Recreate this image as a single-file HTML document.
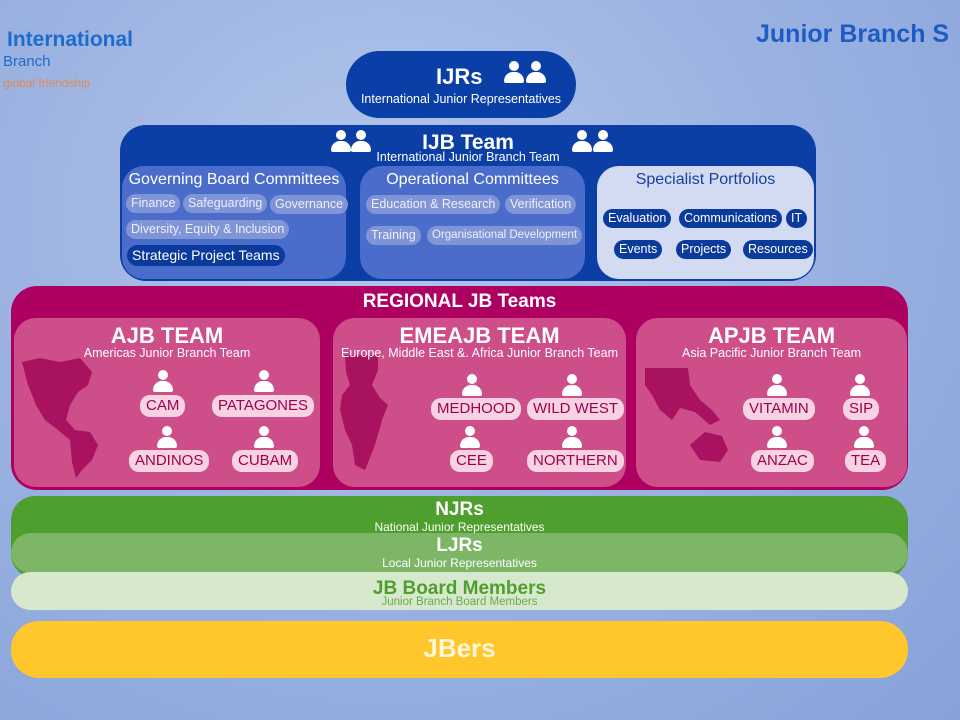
<!DOCTYPE html>
<html><head><meta charset="utf-8"><style>
*{margin:0;padding:0;box-sizing:border-box}
body{width:960px;height:720px;overflow:hidden;position:relative;font-family:"Liberation Sans Narrow","Liberation Sans",sans-serif;
background:radial-gradient(ellipse at 40% 30%,#b3c6ea 0%,#9db4e2 45%,#87a2da 100%);}
.a{position:absolute}
.c{text-align:center;color:#fff}
.pill{position:absolute;border-radius:11px;padding:0 5px;height:19px;line-height:19px;font-size:12.5px;white-space:nowrap}
.gb{background:#7f95d6;color:#eef}
.sp{background:#0a3a9c;color:#fff}
.rp{position:absolute;background:#f6d2e2;color:#a0004f;border-radius:10px;height:22px;line-height:22px;font-size:15px;padding:0 6px;white-space:nowrap}
.pe{position:absolute;width:20px;height:24px}
.pe:before{content:"";position:absolute;left:5px;top:0;width:10px;height:10px;border-radius:50%;background:#fff}
.pe:after{content:"";position:absolute;left:0;top:11px;width:20px;height:11px;border-radius:9px 9px 2px 2px;background:#fff}
</style></head><body>
<div class="a" style="left:7px;top:28px;font-size:21px;font-weight:bold;color:#1d6ccc;font-family:'Liberation Sans',sans-serif">International</div>
<div class="a" style="left:3px;top:53px;font-size:15px;color:#1d6ccc;font-family:'Liberation Sans',sans-serif">Branch</div>
<div class="a" style="left:3px;top:76px;font-size:12px;color:#e08a5a;font-family:'Liberation Sans',sans-serif">global friendship</div>
<div class="a" style="left:756px;top:20px;font-size:25px;font-weight:bold;color:#1d5cc4;font-family:'Liberation Sans',sans-serif;white-space:nowrap">Junior Branch S</div>

<div class="a c" style="left:346px;top:51px;width:230px;height:67px;background:#0a3fa8;border-radius:34px">
<div class="a" style="left:90px;top:13px;font-size:22px;font-weight:bold">IJRs</div>
<div class="pe" style="left:158px;top:10px"></div><div class="pe" style="left:180px;top:10px"></div>
<div class="a" style="left:0;width:230px;top:41px;font-size:12.5px">International Junior Representatives</div>
</div>

<div class="a c" style="left:120px;top:125px;width:696px;height:156px;background:#0b3fa6;border-radius:26px"></div>
<div class="pe" style="left:331px;top:130px"></div><div class="pe" style="left:351px;top:130px"></div>
<div class="pe" style="left:572px;top:130px"></div><div class="pe" style="left:593px;top:130px"></div>
<div class="a c" style="left:120px;width:696px;top:131px;font-size:21px;font-weight:bold">IJB Team</div>
<div class="a c" style="left:120px;width:696px;top:150px;font-size:12.5px">International Junior Branch Team</div>

<div class="a" style="left:122px;top:166px;width:224px;height:113px;background:#4a6ccb;border-radius:22px"></div>
<div class="a c" style="left:122px;width:224px;top:171px;font-size:16px">Governing Board Committees</div>
<div class="pill gb" style="left:126px;top:194px">Finance</div>
<div class="pill gb" style="left:183px;top:194px">Safeguarding</div>
<div class="pill gb" style="left:270px;top:195px">Governance</div>
<div class="pill gb" style="left:126px;top:220px">Diversity, Equity &amp; Inclusion</div>
<div class="pill sp" style="left:127px;top:245px;font-size:14px;height:21px;line-height:21px">Strategic Project Teams</div>

<div class="a" style="left:360px;top:166px;width:225px;height:113px;background:#4a6ccb;border-radius:22px"></div>
<div class="a c" style="left:360px;width:225px;top:171px;font-size:16px">Operational Committees</div>
<div class="pill gb" style="left:366px;top:195px">Education &amp; Research</div>
<div class="pill gb" style="left:505px;top:195px">Verification</div>
<div class="pill gb" style="left:366px;top:226px">Training</div>
<div class="pill gb" style="left:427px;top:226px;font-size:11.5px">Organisational Development</div>

<div class="a" style="left:597px;top:166px;width:217px;height:113px;background:#d3dbf3;border-radius:22px"></div>
<div class="a" style="left:597px;width:217px;top:171px;font-size:16px;color:#1a3f9c;text-align:center">Specialist Portfolios</div>
<div class="pill sp" style="left:603px;top:209px">Evaluation</div>
<div class="pill sp" style="left:679px;top:209px">Communications</div>
<div class="pill sp" style="left:786px;top:209px">IT</div>
<div class="pill sp" style="left:614px;top:240px">Events</div>
<div class="pill sp" style="left:676px;top:240px">Projects</div>
<div class="pill sp" style="left:743px;top:240px">Resources</div>

<div class="a" style="left:11px;top:286px;width:897px;height:204px;background:#ae0060;border-radius:26px"></div>
<div class="a c" style="left:11px;width:897px;top:291px;font-size:19px;font-weight:bold">REGIONAL JB Teams</div>

<div class="a" style="left:14px;top:318px;width:306px;height:169px;background:#cd4e89;border-radius:22px"></div>
<div class="a" style="left:333px;top:318px;width:293px;height:169px;background:#cd4e89;border-radius:22px"></div>
<div class="a" style="left:636px;top:318px;width:271px;height:169px;background:#cd4e89;border-radius:22px"></div>

<svg class="a" style="left:0;top:0" width="960" height="720">
<g fill="#a8125f">
<path d="M22 362 L40 358 L60 362 L80 358 L92 372 L88 385 L78 392 L70 405 L66 420 L75 430 L90 432 L98 445 L92 460 L82 470 L76 478 L72 462 L70 440 L58 430 L45 420 L36 405 L28 385 Z"/>
<path d="M345 355 L378 355 L378 370 L372 385 L380 398 L388 405 L382 420 L375 445 L365 470 L355 465 L352 445 L345 430 L340 410 L342 395 L350 385 L346 372 Z"/>
<path d="M645 368 L688 368 L690 385 L700 400 L712 410 L720 420 L710 425 L695 412 L680 408 L672 420 L660 410 L652 395 L645 385 Z"/>
<path d="M690 445 L705 432 L722 436 L728 450 L720 462 L700 460 Z"/>
</g>
</svg>

<div class="a c" style="left:14px;width:306px;top:323px;font-size:22px;font-weight:bold">AJB TEAM</div>
<div class="a c" style="left:14px;width:306px;top:346px;font-size:12.5px">Americas Junior Branch Team</div>
<div class="a c" style="left:333px;width:293px;top:323px;font-size:22px;font-weight:bold">EMEAJB TEAM</div>
<div class="a c" style="left:333px;width:293px;top:346px;font-size:12.5px">Europe, Middle East &amp;. Africa Junior Branch Team</div>
<div class="a c" style="left:636px;width:271px;top:323px;font-size:22px;font-weight:bold">APJB TEAM</div>
<div class="a c" style="left:636px;width:271px;top:346px;font-size:12.5px">Asia Pacific Junior Branch Team</div>

<div class="pe" style="left:153px;top:370px"></div><div class="rp" style="left:140px;top:395px">CAM</div>
<div class="pe" style="left:254px;top:370px"></div><div class="rp" style="left:212px;top:395px">PATAGONES</div>
<div class="pe" style="left:157px;top:426px"></div><div class="rp" style="left:129px;top:450px">ANDINOS</div>
<div class="pe" style="left:254px;top:426px"></div><div class="rp" style="left:232px;top:450px">CUBAM</div>

<div class="pe" style="left:462px;top:374px"></div><div class="rp" style="left:431px;top:398px">MEDHOOD</div>
<div class="pe" style="left:562px;top:374px"></div><div class="rp" style="left:527px;top:398px">WILD WEST</div>
<div class="pe" style="left:460px;top:426px"></div><div class="rp" style="left:450px;top:450px">CEE</div>
<div class="pe" style="left:562px;top:426px"></div><div class="rp" style="left:527px;top:450px">NORTHERN</div>

<div class="pe" style="left:767px;top:374px"></div><div class="rp" style="left:743px;top:398px">VITAMIN</div>
<div class="pe" style="left:850px;top:374px"></div><div class="rp" style="left:843px;top:398px">SIP</div>
<div class="pe" style="left:767px;top:426px"></div><div class="rp" style="left:751px;top:450px">ANZAC</div>
<div class="pe" style="left:854px;top:426px"></div><div class="rp" style="left:845px;top:450px">TEA</div>

<div class="a" style="left:11px;top:496px;width:897px;height:82px;background:#4f9f2e;border-radius:24px"></div>
<div class="a c" style="left:11px;width:897px;top:499px;font-size:19px;font-weight:bold">NJRs</div>
<div class="a c" style="left:11px;width:897px;top:520px;font-size:12px">National Junior Representatives</div>
<div class="a" style="left:11px;top:533px;width:897px;height:40px;background:#7db667;border-radius:20px"></div>
<div class="a c" style="left:11px;width:897px;top:535px;font-size:19px;font-weight:bold">LJRs</div>
<div class="a c" style="left:11px;width:897px;top:556px;font-size:12px">Local Junior Representatives</div>
<div class="a" style="left:11px;top:572px;width:897px;height:38px;background:#d6e9cd;border-radius:19px"></div>
<div class="a" style="left:11px;width:897px;top:578px;font-size:19px;font-weight:bold;color:#4f9f2e;text-align:center">JB Board Members</div>
<div class="a" style="left:11px;width:897px;top:596px;font-size:11.5px;color:#6aa84f;text-align:center">Junior Branch Board Members</div>

<div class="a" style="left:11px;top:621px;width:897px;height:57px;background:#ffc72b;border-radius:28px"></div>
<div class="a c" style="left:11px;width:897px;top:633px;font-size:26px;font-weight:bold;color:#fff6d8">JBers</div>
</body></html>
